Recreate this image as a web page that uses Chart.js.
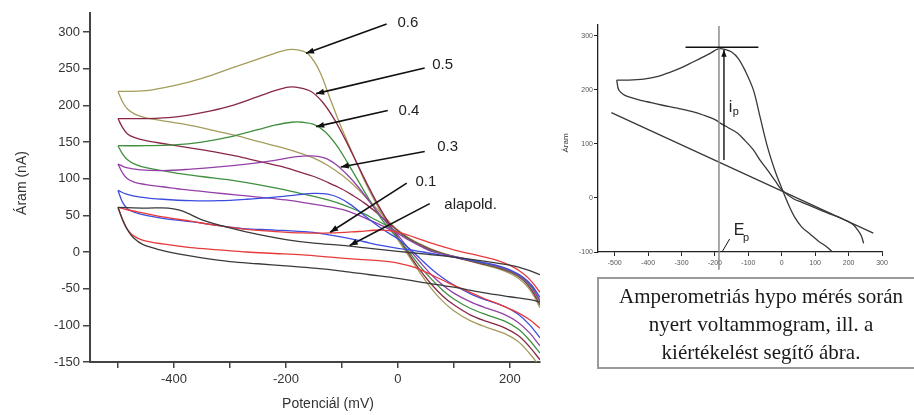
<!DOCTYPE html>
<html>
<head>
<meta charset="utf-8">
<script src="https://cdn.jsdelivr.net/npm/chart.js@4.4.0/dist/chart.umd.min.js"></script>
<style>
  html, body { margin: 0; padding: 0; background: #fff; overflow: hidden; }
  body { width: 914px; height: 415px; position: relative; }
  #mainChart { position: absolute; left: 0; top: 0; }
  #sideChart { position: absolute; left: 560px; top: 0; }
  #caption {
    position: absolute; left: 597px; top: 277px; width: 324px; height: 85px;
    border: 2px solid #9a9a9a; padding-top: 3px;
    font-family: "Liberation Serif", "Times New Roman", serif; font-size: 21px; line-height: 28px;
    color: #1a1a1a; text-align: center;
  }
</style>
</head>
<body>
<canvas id="mainChart" width="560" height="415"></canvas>
<canvas id="sideChart" width="354" height="280"></canvas>
<div id="caption">Amperometriás hypo mérés során<br>nyert voltammogram, ill. a<br>kiértékelést segítő ábra.</div>
<script>
// === Main voltammogram data (mV, nA) ===
const xTicksMain = [-500, -400, -300, -200, -100, 0, 100, 200];
const xLabelledMain = [-400, -200, 0, 200];
const yTicksMain = [-150, -100, -50, 0, 50, 100, 150, 200, 250, 300];

// 0.6
const c06Fwd = [[-500,219],[-450,220],[-400,227],[-350,237],[-300,250],[-250,263],[-220,271],[-195,276],[-175,275],[-160,270],[-140,247],[-120,207],[-100,168],[-80,133],[-60,98],[-40,68],[-20,41],[0,17],[20,-6],[40,-29],[60,-50],[80,-67],[100,-80],[130,-94],[160,-103],[190,-111],[215,-122],[235,-138],[254,-156]];
const c06Rev = [[-500,219],[-492,205],[-483,195],[-470,188],[-450,183],[-420,179],[-380,174],[-330,166],[-290,159],[-250,151],[-210,143],[-175,135],[-150,128],[-125,118],[-100,105],[-80,92],[-60,77],[-40,61],[-20,45],[0,30],[20,19],[40,11],[60,4],[100,-6],[150,-17],[180,-23],[205,-31],[225,-42],[240,-56],[254,-76]];
// 0.5
const c05Fwd = [[-500,182],[-450,182],[-400,184],[-350,190],[-300,199],[-250,212],[-220,220],[-195,225],[-175,224],[-155,219],[-135,205],[-115,183],[-95,155],[-75,124],[-55,93],[-35,64],[-15,38],[0,20],[20,-3],[40,-25],[60,-44],[80,-60],[100,-72],[130,-86],[160,-95],[190,-103],[215,-114],[235,-129],[254,-147]];
const c05Rev = [[-500,182],[-492,170],[-483,161],[-470,156],[-450,152],[-420,148],[-380,143],[-330,137],[-290,131],[-250,124],[-210,117],[-175,109],[-150,103],[-125,95],[-100,86],[-80,77],[-60,67],[-40,55],[-20,42],[0,29],[20,18],[40,10],[60,3],[100,-7],[150,-16],[180,-22],[205,-29],[225,-39],[240,-53],[254,-72]];
// 0.4
const c04Fwd = [[-500,145],[-450,145],[-400,146],[-350,150],[-300,157],[-250,167],[-220,173],[-190,177],[-170,177],[-150,174],[-130,164],[-110,146],[-90,122],[-70,96],[-50,70],[-30,46],[-10,27],[0,19],[20,0],[40,-20],[60,-37],[80,-52],[100,-64],[130,-77],[160,-86],[190,-94],[215,-105],[235,-120],[254,-138]];
const c04Rev = [[-500,145],[-492,134],[-483,126],[-470,120],[-450,115],[-420,111],[-380,106],[-330,101],[-290,97],[-250,92],[-210,86],[-175,80],[-150,76],[-125,71],[-100,65],[-80,59],[-60,52],[-40,44],[-20,36],[0,27],[20,17],[40,9],[60,2],[100,-6],[150,-15],[180,-21],[205,-28],[225,-37],[240,-50],[254,-68]];
// 0.3
const c03Fwd = [[-500,120],[-485,115],[-460,112],[-420,111],[-370,113],[-320,116],[-270,120],[-220,125],[-180,130],[-155,131],[-130,128],[-110,119],[-90,105],[-70,88],[-50,68],[-30,49],[-10,31],[0,23],[20,4],[40,-14],[60,-31],[80,-45],[100,-56],[130,-68],[160,-77],[190,-85],[215,-96],[235,-110],[254,-128]];
const c03Rev = [[-500,120],[-492,108],[-483,100],[-470,95],[-450,92],[-420,89],[-380,85],[-330,81],[-290,78],[-250,75],[-200,71],[-157,66],[-125,62],[-100,58],[-80,53],[-60,47],[-40,40],[-20,33],[0,25],[20,16],[40,8],[60,1],[100,-6],[150,-14],[180,-20],[205,-27],[225,-36],[240,-48],[254,-66]];
// 0.2 (blue, unlabelled)
const c02Fwd = [[-500,84],[-485,79],[-460,75],[-420,72],[-370,70],[-320,70],[-270,72],[-220,75],[-180,78],[-150,80],[-125,79],[-105,74],[-85,65],[-65,53],[-45,41],[-25,30],[0,18],[20,5],[40,-9],[60,-23],[80,-35],[100,-45],[130,-57],[160,-66],[190,-74],[215,-85],[235,-99],[254,-117]];
const c02Rev = [[-500,84],[-492,68],[-483,59],[-470,54],[-450,50],[-420,46],[-366,41],[-320,36],[-277,32],[-220,30],[-157,27],[-120,23],[-90,19],[-60,14],[-30,9],[0,5],[30,2],[60,-2],[100,-7],[150,-14],[180,-19],[205,-26],[225,-35],[240,-46],[254,-62]];
// 0.1
const c01Up = [[-500,61],[-485,58],[-460,54],[-420,48],[-370,42],[-320,36],[-270,31],[-220,28],[-170,26],[-120,26],[-70,28],[-30,30],[0,27],[30,20],[60,12],[100,3],[150,-6],[180,-12],[205,-20],[225,-30],[240,-41],[254,-55]];
const c01Low = [[-500,61],[-492,45],[-483,31],[-472,22],[-455,16],[-420,11],[-370,6],[-320,3],[-270,0],[-220,-2],[-170,-4],[-120,-7],[-70,-10],[-30,-12],[0,-15],[30,-21],[60,-31],[90,-42],[120,-52],[150,-62],[180,-71],[210,-81],[235,-92],[254,-104]];
// alapoldat
const baseUp = [[-500,61],[-450,60],[-410,60],[-390,57],[-370,51],[-350,44],[-300,33],[-250,24],[-200,17],[-150,12],[-100,9],[-50,5],[0,1],[50,-3],[100,-7],[150,-12],[200,-18],[230,-24],[254,-31]];
const baseLow = [[-500,61],[-492,44],[-483,30],[-472,19],[-455,10],[-420,2],[-390,-3],[-350,-8],[-300,-13],[-250,-16],[-200,-19],[-150,-22],[-100,-26],[-50,-31],[0,-36],[50,-42],[100,-48],[150,-55],[200,-61],[236,-65],[254,-68]];

const mainSeries = [
  { color: "#3a3a3a", parts: [baseUp, baseLow] },
  { color: "#e83a3a", parts: [c01Up, c01Low] },
  { color: "#3d4de0", parts: [c02Fwd, c02Rev] },
  { color: "#9440a8", parts: [c03Fwd, c03Rev] },
  { color: "#3f8f3f", parts: [c04Fwd, c04Rev] },
  { color: "#8a2748", parts: [c05Fwd, c05Rev] },
  { color: "#a59c5c", parts: [c06Fwd, c06Rev] }
];

// label, label position, arrow start, arrow tip (data coords)
const mainNotes = [
  { text: "0.6", at: [18, 312], from: [-20, 311], to: [-164, 271] },
  { text: "0.5", at: [80, 255], from: [48, 251], to: [-146, 216] },
  { text: "0.4", at: [20, 193], from: [-18, 193], to: [-146, 171] },
  { text: "0.3", at: [89, 143], from: [48, 137], to: [-102, 116] },
  { text: "0.1", at: [50, 96], from: [16, 94], to: [-121, 27] },
  { text: "alapold.", at: [130, 64], from: [57, 66], to: [-86, 9] }
];

// === Side figure data ===
const xTicksSide = [-500, -400, -300, -200, -100, 0, 100, 200, 300];
const yTicksSide = [-100, 0, 100, 200, 300];
const sidePeak = [[-494,218],[-460,218],[-413,220],[-370,225],[-333,233],[-300,241],[-264,252],[-235,261],[-213,268],[-190,276],[-170,275],[-150,270],[-130,258],[-110,236],[-85,200],[-65,150],[-43,95],[-20,50],[0,18],[20,-12],[40,-37],[60,-54],[85,-67],[110,-80],[136,-91],[155,-102]];
const sideReturn = [[-494,218],[-488,200],[-475,192],[-462,188],[-430,182],[-402,178],[-360,172],[-312,166],[-270,160],[-233,153],[-200,145],[-183,138],[-160,130],[-133,120],[-110,106],[-85,89],[-65,70],[-43,52],[-20,32],[0,15],[36,-2],[60,-8],[95,-17],[125,-25],[155,-32],[180,-38],[197,-43],[215,-50],[227,-59],[238,-70],[245,-84]];
const sideBase = [[-510,158],[274,-65]];
const peakPotential = -188;
const peakCurrent = 279;

const axisColor = "#444";
const sans = "'Liberation Sans', Arial, sans-serif";

function drawArrow(ctx, x1, y1, x2, y2, head) {
  ctx.beginPath();
  ctx.moveTo(x1, y1);
  ctx.lineTo(x2, y2);
  ctx.stroke();
  const a = Math.atan2(y2 - y1, x2 - x1);
  const w = head * 0.38;
  ctx.beginPath();
  ctx.moveTo(x2, y2);
  ctx.lineTo(x2 - head * Math.cos(a) + w * Math.sin(a), y2 - head * Math.sin(a) - w * Math.cos(a));
  ctx.lineTo(x2 - head * Math.cos(a) - w * Math.sin(a), y2 - head * Math.sin(a) + w * Math.cos(a));
  ctx.closePath();
  ctx.fill();
}

// === Main chart ===
const mainDatasets = [];
mainSeries.forEach(s => {
  s.parts.forEach(p => {
    mainDatasets.push({
      data: p, borderColor: s.color, borderWidth: 1.3, pointRadius: 0,
      showLine: true, tension: 0.35, fill: false
    });
  });
});

const mainNotesPlugin = {
  id: "mainNotes",
  afterDraw(chart) {
    const { ctx, scales: { x, y } } = chart;
    ctx.save();
    ctx.strokeStyle = "#111";
    ctx.fillStyle = "#111";
    ctx.lineWidth = 1.6;
    mainNotes.forEach(n => {
      drawArrow(ctx, x.getPixelForValue(n.from[0]), y.getPixelForValue(n.from[1]),
        x.getPixelForValue(n.to[0]), y.getPixelForValue(n.to[1]), 8);
    });
    ctx.fillStyle = "#222";
    ctx.font = "15px " + sans;
    ctx.textAlign = "center";
    ctx.textBaseline = "middle";
    mainNotes.forEach(n => {
      ctx.fillText(n.text, x.getPixelForValue(n.at[0]), y.getPixelForValue(n.at[1]));
    });
    // axis titles
    ctx.font = "14px " + sans;
    ctx.fillStyle = "#333";
    ctx.fillText("Potenciál (mV)", 328, 404);
    ctx.translate(22, 183);
    ctx.rotate(-Math.PI / 2);
    ctx.fillText("Áram (nA)", 0, 0);
    ctx.restore();
  }
};

new Chart(document.getElementById("mainChart"), {
  type: "scatter",
  data: { datasets: mainDatasets },
  options: {
    responsive: false,
    animation: false,
    layout: { padding: { top: 13, right: 20, left: 0, bottom: 0 } },
    plugins: { legend: { display: false }, tooltip: { enabled: false } },
    scales: {
      x: {
        type: "linear", min: -550, max: 254,
        afterBuildTicks: a => { a.ticks = xTicksMain.map(v => ({ value: v })); },
        afterFit: a => { a.height = 53; },
        grid: { drawOnChartArea: false, drawTicks: true, tickLength: 6, color: axisColor, lineWidth: 1.5 },
        border: { color: axisColor, width: 2 },
        ticks: {
          autoSkip: false, maxRotation: 0, padding: 4, color: "#333",
          font: { size: 13, family: sans },
          callback: v => xLabelledMain.includes(v) ? String(v) : ""
        }
      },
      y: {
        type: "linear", min: -150, max: 326,
        afterBuildTicks: a => { a.ticks = yTicksMain.map(v => ({ value: v })); },
        afterFit: a => { a.width = 90; },
        grid: { drawOnChartArea: false, drawTicks: true, tickLength: 7, color: axisColor, lineWidth: 1.5 },
        border: { color: axisColor, width: 2 },
        ticks: { padding: 3, color: "#333", font: { size: 13, family: sans } }
      }
    }
  },
  plugins: [mainNotesPlugin]
});

// === Side chart ===
const sideNotesPlugin = {
  id: "sideNotes",
  afterDraw(chart) {
    const { ctx, scales: { x, y } } = chart;
    ctx.save();
    // peak potential guide
    ctx.strokeStyle = "#8c8c8c";
    ctx.lineWidth = 1.5;
    ctx.beginPath();
    ctx.moveTo(x.getPixelForValue(peakPotential), y.getPixelForValue(318));
    ctx.lineTo(x.getPixelForValue(peakPotential), y.getPixelForValue(-133));
    ctx.stroke();
    // peak current guide
    ctx.strokeStyle = "#111";
    ctx.fillStyle = "#111";
    ctx.beginPath();
    ctx.moveTo(x.getPixelForValue(-288), y.getPixelForValue(peakCurrent));
    ctx.lineTo(x.getPixelForValue(-70), y.getPixelForValue(peakCurrent));
    ctx.stroke();
    // i_p arrow
    ctx.lineWidth = 1.4;
    drawArrow(ctx, x.getPixelForValue(-173), y.getPixelForValue(70),
      x.getPixelForValue(-173), y.getPixelForValue(274), 7);
    // E_p leader
    ctx.lineWidth = 1;
    ctx.beginPath();
    ctx.moveTo(x.getPixelForValue(-177), y.getPixelForValue(-98));
    ctx.lineTo(x.getPixelForValue(-156), y.getPixelForValue(-76));
    ctx.stroke();
    // labels
    ctx.fillStyle = "#222";
    ctx.textAlign = "left";
    ctx.textBaseline = "alphabetic";
    ctx.font = "16px " + sans;
    ctx.fillText("i", x.getPixelForValue(-159), y.getPixelForValue(159));
    ctx.fillText("E", x.getPixelForValue(-144), y.getPixelForValue(-69));
    ctx.font = "11px " + sans;
    ctx.fillText("p", x.getPixelForValue(-147), y.getPixelForValue(153));
    ctx.fillText("p", x.getPixelForValue(-116), y.getPixelForValue(-79));
    // axis title
    ctx.font = "8px " + sans;
    ctx.fillStyle = "#333";
    ctx.textAlign = "center";
    ctx.textBaseline = "middle";
    ctx.translate(6, 143);
    ctx.rotate(-Math.PI / 2);
    ctx.fillText("Áram", 0, 0);
    ctx.restore();
  }
};

new Chart(document.getElementById("sideChart"), {
  type: "scatter",
  data: {
    datasets: [sidePeak, sideReturn, sideBase].map(d => ({
      data: d, borderColor: "#383838", borderWidth: 1.3, pointRadius: 0,
      showLine: true, tension: 0.35, fill: false
    }))
  },
  options: {
    responsive: false,
    animation: false,
    layout: { padding: { top: 25, right: 32, left: 0, bottom: 0 } },
    plugins: { legend: { display: false }, tooltip: { enabled: false } },
    scales: {
      x: {
        type: "linear", min: -550, max: 300,
        afterBuildTicks: a => { a.ticks = xTicksSide.map(v => ({ value: v })); },
        afterFit: a => { a.height = 28; },
        grid: { drawOnChartArea: false, drawTicks: true, tickLength: 4, color: "#222", lineWidth: 1 },
        border: { color: "#222", width: 1.3 },
        ticks: { autoSkip: false, maxRotation: 0, padding: 3, color: "#555", font: { size: 7, family: sans } }
      },
      y: {
        type: "linear", min: -100, max: 320,
        afterBuildTicks: a => { a.ticks = yTicksSide.map(v => ({ value: v })); },
        afterFit: a => { a.width = 38; },
        grid: { drawOnChartArea: false, drawTicks: true, tickLength: 4, color: "#222", lineWidth: 1 },
        border: { color: "#222", width: 1.3 },
        ticks: { padding: 1, color: "#555", font: { size: 7, family: sans } }
      }
    }
  },
  plugins: [sideNotesPlugin]
});
</script>
</body>
</html>
